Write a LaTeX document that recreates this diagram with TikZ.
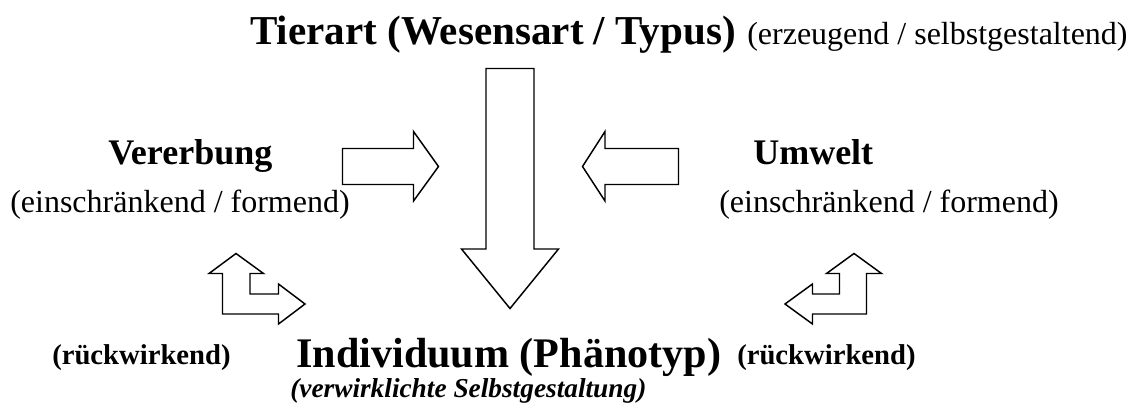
\documentclass[tikz,border=0pt]{standalone}
\usepackage{fontspec}
\setmainfont{Liberation Serif}
\usetikzlibrary{calc}
\tikzstyle{bigtitle} = [anchor=base west,inner sep=0pt,font=\fontsize{32}{36}\selectfont\bfseries]
\tikzstyle{sidetitle} = [anchor=base west,inner sep=0pt,font=\fontsize{27}{30}\selectfont\bfseries]
\tikzstyle{remark} = [anchor=base west,inner sep=0pt,font=\fontsize{24}{28}\selectfont]
\tikzstyle{smallbold} = [anchor=base west,inner sep=0pt,font=\fontsize{21.5}{25}\selectfont\bfseries]
\tikzstyle{blockarrow} = [draw,line width=1.1pt,line join=miter,fill=white]

\begin{document}
\begin{tikzpicture}[x=0.75pt,y=-0.75pt]
			\useasboundingbox (0,0) rectangle (1137,407);
			
			\node[bigtitle,font=\fontsize{30.8}{34}\selectfont\bfseries] (tierart) at (250,44) {Tierart (Wesensart / Typus)};
			\node[remark] (erzeugend) at (747,44) {(erzeugend / selbstgestaltend)};
			
			\node[sidetitle] (vererbung) at (108,164) {Vererbung};
			\node[remark] (formendL) at (10,212) {(einschränkend / formend)};
			\node[sidetitle] (umwelt) at (753,164) {Umwelt};
			\node[remark] (formendR) at (719,212) {(einschränkend / formend)};
			
			\node[smallbold] (rueckL) at (52,364) {(rückwirkend)};
			\node[smallbold] (rueckR) at (737,364) {(rückwirkend)};
			\node[bigtitle,font=\fontsize{31.6}{36}\selectfont\bfseries] (individuum) at (296,367) {Individuum (Phänotyp)};
			\node[remark,font=\fontsize{20.5}{24}\selectfont\bfseries\itshape] (selbst) at (290,397) {(verwirklichte Selbstgestaltung)};
			
			% main arrow
			\draw[blockarrow] (486,68.5) -- (534,68.5) -- (534,249) -- (558.5,249) -- (510,308.5) -- (461.5,249) -- (486,249) -- cycle;
			
			% side arrows
			\draw[blockarrow] (342.5,148.5) -- (413.5,148.5) -- (413.5,131.5) -- (438.5,166.5) -- (413.5,201) -- (413.5,184.5) -- (342.5,184.5) -- cycle;
			\draw[blockarrow] (678.5,148.5) -- (605,148.5) -- (605,131.5) -- (582.5,166.5) -- (605,201) -- (605,184.5) -- (678.5,184.5) -- cycle;
			
			% bent arrows
			\draw[blockarrow] (222.5,314) -- (222.5,273.5) -- (209,273.5) -- (236,253.5) -- (263.5,273.5) -- (250,273.5) -- (250,294) -- (278.5,294) -- (278.5,284) -- (305,304) -- (278.5,324) -- (278.5,314) -- cycle;
			\draw[blockarrow] (866.5,314) -- (866.5,273.5) -- (881.5,273.5) -- (854,253.5) -- (826.5,273.5) -- (839.5,273.5) -- (839.5,294) -- (812.5,294) -- (812.5,284) -- (785,304) -- (812.5,324) -- (812.5,314) -- cycle;
		\end{tikzpicture}
\end{document}
